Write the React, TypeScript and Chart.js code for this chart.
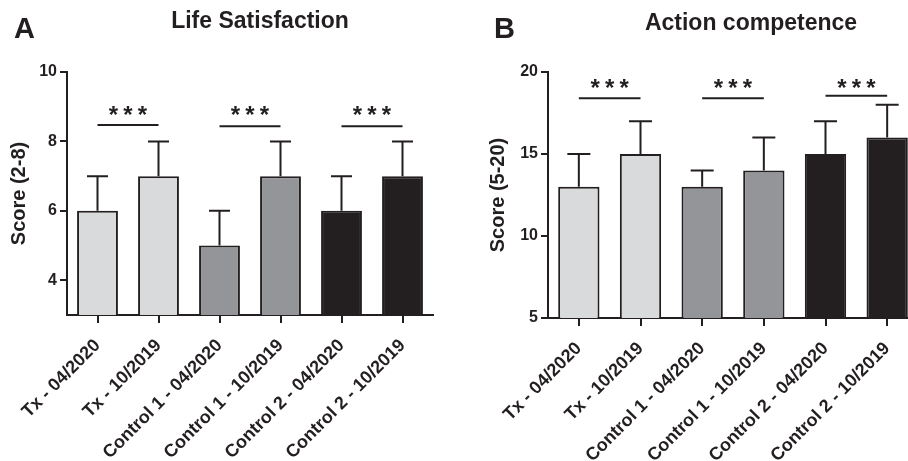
import React, { useEffect, useRef } from 'react';
import { Chart, registerables } from 'chart.js';

Chart.register(...registerables);

// ---------- data ----------
const categories = [
  'Tx - 04/2020',
  'Tx - 10/2019',
  'Control 1 - 04/2020',
  'Control 1 - 10/2019',
  'Control 2 - 04/2020',
  'Control 2 - 10/2019',
];
const lifeMeans = [6, 7, 5, 7, 6, 7];
const lifeUpper = [7, 8, 6, 8, 7, 8];
const lifeTicks = [4, 6, 8, 10];
const lifeSigY = [8.47, 8.44, 8.44];
const lifeStarY = 8.9;

const actionMeans = [13, 15, 13, 14, 15, 16];
const actionUpper = [15, 17, 14, 16, 17, 18];
const actionTicks = [5, 10, 15, 20];
const actionSigY = [18.4, 18.4, 18.55];
const actionStarY = 19.33;

const sigPairs = [
  [0, 1],
  [2, 3],
  [4, 5],
];
const sigText = '*';

// ---------- style ----------
const INK = '#231f20';
const FAMILY = "'Liberation Sans', Arial, Helvetica, sans-serif";
const barColors = ['#d9dadc', '#d9dadc', '#939598', '#939598', '#231f20', '#231f20'];

type PanelProps = {
  left: number;
  width: number;
  letter: string;
  title: string;
  yTitle: string;
  means: number[];
  upper: number[];
  min: number;
  max: number;
  ticks: number[];
  sigY: number[];
  starY: number;
  yAxisWidth: number;
  chartTop: number;
  xAxisHeight: number;
  padRight: number;
  letterX: number;
  titleX: number;
  titleBaseline: number;
  yTitleX: number;
  capWidth: number;
};

function Panel(p: PanelProps) {
  const ref = useRef<HTMLCanvasElement>(null);
  useEffect(() => {
    const overlay = {
      id: 'overlay',
      afterDatasetsDraw(chart: any) {
        const ctx = chart.ctx as CanvasRenderingContext2D;
        const y = chart.scales.y;
        const meta = chart.getDatasetMeta(0);
        ctx.save();
        ctx.strokeStyle = INK;
        ctx.lineWidth = 2;
        ctx.lineCap = 'butt';
        // error bars
        meta.data.forEach((bar: any, i: number) => {
          const cx = bar.x;
          const top = y.getPixelForValue(p.means[i]);
          const up = y.getPixelForValue(p.upper[i]);
          ctx.beginPath();
          ctx.moveTo(cx, top);
          ctx.lineTo(cx, up);
          ctx.moveTo(cx - p.capWidth / 2, up);
          ctx.lineTo(cx + p.capWidth / 2, up);
          ctx.stroke();
        });
        // significance lines and stars
        ctx.fillStyle = INK;
        ctx.font = `bold 24px ${FAMILY}`;
        ctx.textAlign = 'center';
        ctx.textBaseline = 'alphabetic';
        sigPairs.forEach(([a, b], k) => {
          const xa = meta.data[a].x;
          const xb = meta.data[b].x;
          const ly = y.getPixelForValue(p.sigY[k]);
          ctx.beginPath();
          ctx.moveTo(xa, ly);
          ctx.lineTo(xb, ly);
          ctx.stroke();
          const cx = (xa + xb) / 2;
          const sy = y.getPixelForValue(p.starY) + 13;
          [-14.5, 0, 14.5].forEach((dx) => ctx.fillText(sigText, cx + dx, sy));
        });
        ctx.restore();
      },
      afterDraw(chart: any) {
        const ctx = chart.ctx as CanvasRenderingContext2D;
        const area = chart.chartArea;
        ctx.save();
        ctx.fillStyle = INK;
        ctx.textBaseline = 'alphabetic';
        ctx.textAlign = 'left';
        ctx.font = `bold 29px ${FAMILY}`;
        ctx.fillText(p.letter, p.letterX, 38);
        ctx.textAlign = 'center';
        ctx.font = `bold 23px ${FAMILY}`;
        ctx.fillText(p.title, p.titleX, p.titleBaseline);
        ctx.translate(p.yTitleX, (area.top + area.bottom) / 2);
        ctx.rotate(-Math.PI / 2);
        ctx.textBaseline = 'middle';
        ctx.font = `bold 20px ${FAMILY}`;
        ctx.fillText(p.yTitle, 0, 0);
        ctx.restore();
      },
    };

    const chart = new Chart(ref.current as HTMLCanvasElement, {
      type: 'bar',
      data: {
        labels: categories,
        datasets: [
          {
            data: p.means,
            backgroundColor: barColors,
            borderColor: INK,
            borderWidth: 2,
            categoryPercentage: 1,
            barPercentage: 0.67,
          } as any,
        ],
      },
      options: {
        animation: false,
        responsive: false,
        maintainAspectRatio: false,
        devicePixelRatio: 1,
        layout: { padding: { left: 0, top: p.chartTop, right: p.padRight, bottom: 0 } },
        plugins: {
          legend: { display: false },
          tooltip: { enabled: false },
          title: { display: false },
        },
        scales: {
          x: {
            offset: true,
            grid: {
              offset: false,
              drawOnChartArea: false,
              drawTicks: true,
              tickLength: 8,
              color: INK,
              lineWidth: 2,
            },
            border: { display: true, color: INK, width: 2 },
            ticks: {
              color: INK,
              font: { family: FAMILY, size: 18, weight: 'bold' },
              minRotation: 45,
              maxRotation: 45,
              autoSkip: false,
              padding: 12,
            },
            afterFit: (s: any) => {
              s.height = p.xAxisHeight;
            },
          },
          y: {
            min: p.min,
            max: p.max,
            afterBuildTicks: (s: any) => {
              s.ticks = p.ticks.map((v) => ({ value: v }));
            },
            grid: {
              drawOnChartArea: false,
              drawTicks: true,
              tickLength: 7,
              color: INK,
              lineWidth: 2,
            },
            border: { display: true, color: INK, width: 2 },
            ticks: {
              color: INK,
              font: { family: FAMILY, size: 16, weight: 'bold' },
              padding: 3,
            },
            afterFit: (s: any) => {
              s.width = p.yAxisWidth;
            },
          },
        },
      } as any,
      plugins: [overlay],
    });
    return () => chart.destroy();
  }, []);
  return (
    <canvas
      ref={ref}
      width={p.width}
      height={461}
      style={{ position: 'absolute', left: p.left, top: 0, width: p.width, height: 461 }}
    />
  );
}

export default function App() {
  return (
    <div
      style={{
        position: 'fixed',
        left: 0,
        top: 0,
        width: 908,
        height: 461,
        overflow: 'hidden',
        background: '#ffffff',
      }}
    >
      <Panel
        left={0}
        width={454}
        letter="A"
        title="Life Satisfaction"
        yTitle="Score (2-8)"
        means={lifeMeans}
        upper={lifeUpper}
        min={3}
        max={10}
        ticks={lifeTicks}
        sigY={lifeSigY}
        starY={lifeStarY}
        yAxisWidth={67}
        chartTop={72}
        xAxisHeight={146}
        padRight={21}
        letterX={14}
        titleX={260}
        titleBaseline={28}
        yTitleX={19}
        capWidth={21}
      />
      <Panel
        left={454}
        width={480}
        letter="B"
        title="Action competence"
        yTitle="Score (5-20)"
        means={actionMeans}
        upper={actionUpper}
        min={5}
        max={20}
        ticks={actionTicks}
        sigY={actionSigY}
        starY={actionStarY}
        yAxisWidth={94}
        chartTop={72}
        xAxisHeight={143}
        padRight={16}
        letterX={40}
        titleX={297}
        titleBaseline={30}
        yTitleX={44}
        capWidth={23}
      />
    </div>
  );
}
